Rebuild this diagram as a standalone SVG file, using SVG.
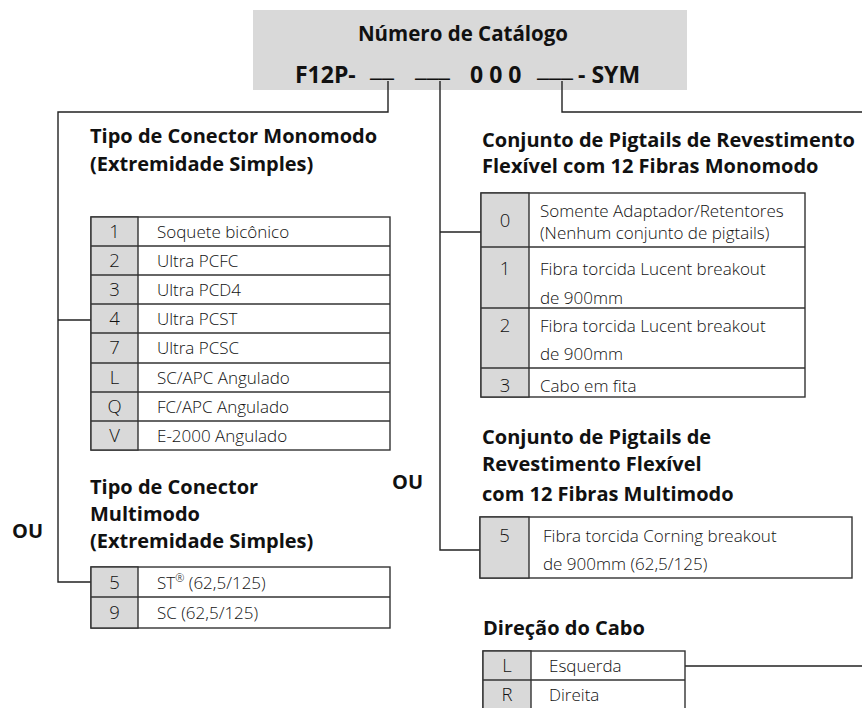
<svg xmlns="http://www.w3.org/2000/svg" width="862" height="708" viewBox="0 0 862 708">
<style>
text{font-family:"Open Sans","Noto Sans","DejaVu Sans",sans-serif;fill:#111}
.t{font-size:20.5px;font-weight:bold}
.c{font-size:23px;font-weight:bold}
.h{font-size:20px;font-weight:bold}
.ou{font-size:20px;font-weight:bold}
.n{font-size:18.5px;font-weight:300;text-anchor:middle}
.r{font-size:17px;font-weight:300}
.box{fill:#fff;stroke:#333;stroke-width:1.4}
.num{fill:#d9d9d9;stroke:#333;stroke-width:1.4}
.ln{stroke:#333;stroke-width:1.4}
.con{fill:none;stroke:#222;stroke-width:1.4}
</style>
<g id="catalog">
<rect x="253" y="10" width="434" height="80" fill="#d9d9d9"/>
<text class="t" x="463" y="41" text-anchor="middle">Número de Catálogo</text>
<text class="c" x="295" y="83">F12P-</text>
<text class="c" x="370" y="76" textLength="24" lengthAdjust="spacingAndGlyphs">__</text>
<text class="c" x="415" y="76" textLength="35" lengthAdjust="spacingAndGlyphs">___</text>
<text class="c" x="470" y="83">0 0 0</text>
<text class="c" x="537" y="76" textLength="36" lengthAdjust="spacingAndGlyphs">___</text>
<text class="c" x="578" y="83">- SYM</text>
</g>
<g id="connectors">
<polyline class="con" points="388,81 388,112 58,112 58,582 91,582"/>
<line class="con" x1="58" y1="320" x2="91" y2="320"/>
<polyline class="con" points="440,81 440,550 481,550"/>
<line class="con" x1="440" y1="232" x2="481" y2="232"/>
<polyline class="con" points="562,81 562,112 862,112"/>
<line class="con" x1="685" y1="666" x2="862" y2="666"/>
</g>
<g id="sm-connector">
<text class="h" x="90" y="143">Tipo de Conector Monomodo</text>
<text class="h" x="90" y="171">(Extremidade Simples)</text>
<rect class="box" x="91" y="217" width="299" height="233"/>
<rect class="num" x="91" y="217" width="47" height="233"/>
<line class="ln" x1="91" y1="246" x2="390" y2="246"/>
<line class="ln" x1="91" y1="275" x2="390" y2="275"/>
<line class="ln" x1="91" y1="304" x2="390" y2="304"/>
<line class="ln" x1="91" y1="333" x2="390" y2="333"/>
<line class="ln" x1="91" y1="363" x2="390" y2="363"/>
<line class="ln" x1="91" y1="392" x2="390" y2="392"/>
<line class="ln" x1="91" y1="421" x2="390" y2="421"/>
<text class="n" x="114.5" y="238">1</text><text class="r" x="157" y="238">Soquete bicônico</text>
<text class="n" x="114.5" y="267">2</text><text class="r" x="157" y="267">Ultra PCFC</text>
<text class="n" x="114.5" y="296">3</text><text class="r" x="157" y="296">Ultra PCD4</text>
<text class="n" x="114.5" y="325">4</text><text class="r" x="157" y="325">Ultra PCST</text>
<text class="n" x="114.5" y="354">7</text><text class="r" x="157" y="354">Ultra PCSC</text>
<text class="n" x="114.5" y="384">L</text><text class="r" x="157" y="384">SC/APC Angulado</text>
<text class="n" x="114.5" y="413">Q</text><text class="r" x="157" y="413">FC/APC Angulado</text>
<text class="n" x="114.5" y="442">V</text><text class="r" x="157" y="442">E-2000 Angulado</text>
</g>
<g id="mm-connector">
<text class="ou" x="12" y="538">OU</text>
<text class="h" x="90" y="494">Tipo de Conector</text>
<text class="h" x="90" y="521">Multimodo</text>
<text class="h" x="90" y="548">(Extremidade Simples)</text>
<rect class="box" x="91" y="567" width="299" height="61"/>
<rect class="num" x="91" y="567" width="47" height="61"/>
<line class="ln" x1="91" y1="597" x2="390" y2="597"/>
<text class="n" x="114.5" y="589">5</text><text class="r" x="157" y="589">ST<tspan font-size="11" dy="-7">®</tspan><tspan dy="7"> (62,5/125)</tspan></text>
<text class="n" x="114.5" y="619">9</text><text class="r" x="157" y="619">SC (62,5/125)</text>
</g>
<g id="sm-pigtail">
<text class="h" x="482" y="147">Conjunto de Pigtails de Revestimento</text>
<text class="h" x="482" y="173">Flexível com 12 Fibras Monomodo</text>
<rect class="box" x="481" y="193" width="324" height="204"/>
<rect class="num" x="481" y="193" width="48" height="204"/>
<line class="ln" x1="481" y1="247" x2="805" y2="247"/>
<line class="ln" x1="481" y1="308" x2="805" y2="308"/>
<line class="ln" x1="481" y1="368" x2="805" y2="368"/>
<text class="n" x="505" y="227">0</text>
<text class="r" x="540" y="217">Somente Adaptador/Retentores</text>
<text class="r" x="540" y="239">(Nenhum conjunto de pigtails)</text>
<text class="n" x="505" y="275">1</text>
<text class="r" x="540" y="275">Fibra torcida Lucent breakout</text>
<text class="r" x="540" y="304">de 900mm</text>
<text class="n" x="505" y="332">2</text>
<text class="r" x="540" y="332">Fibra torcida Lucent breakout</text>
<text class="r" x="540" y="360">de 900mm</text>
<text class="n" x="505" y="392">3</text>
<text class="r" x="540" y="392">Cabo em fita</text>
</g>
<g id="mm-pigtail">
<text class="ou" x="392" y="489">OU</text>
<text class="h" x="482" y="444">Conjunto de Pigtails de</text>
<text class="h" x="482" y="471">Revestimento Flexível</text>
<text class="h" x="482" y="501">com 12 Fibras Multimodo</text>
<rect class="box" x="480" y="517" width="372" height="61"/>
<rect class="num" x="480" y="517" width="49" height="61"/>
<text class="n" x="504.5" y="542">5</text>
<text class="r" x="543" y="542">Fibra torcida Corning breakout</text>
<text class="r" x="543" y="570">de 900mm (62,5/125)</text>
</g>
<g id="cable-direction">
<text class="h" x="483" y="635">Direção do Cabo</text>
<rect class="box" x="483" y="651" width="202" height="58"/>
<rect class="num" x="483" y="651" width="48" height="58"/>
<line class="ln" x1="483" y1="680" x2="685" y2="680"/>
<text class="n" x="507" y="672">L</text><text class="r" x="549" y="672">Esquerda</text>
<text class="n" x="507" y="701">R</text><text class="r" x="549" y="701">Direita</text>
</g>
</svg>
